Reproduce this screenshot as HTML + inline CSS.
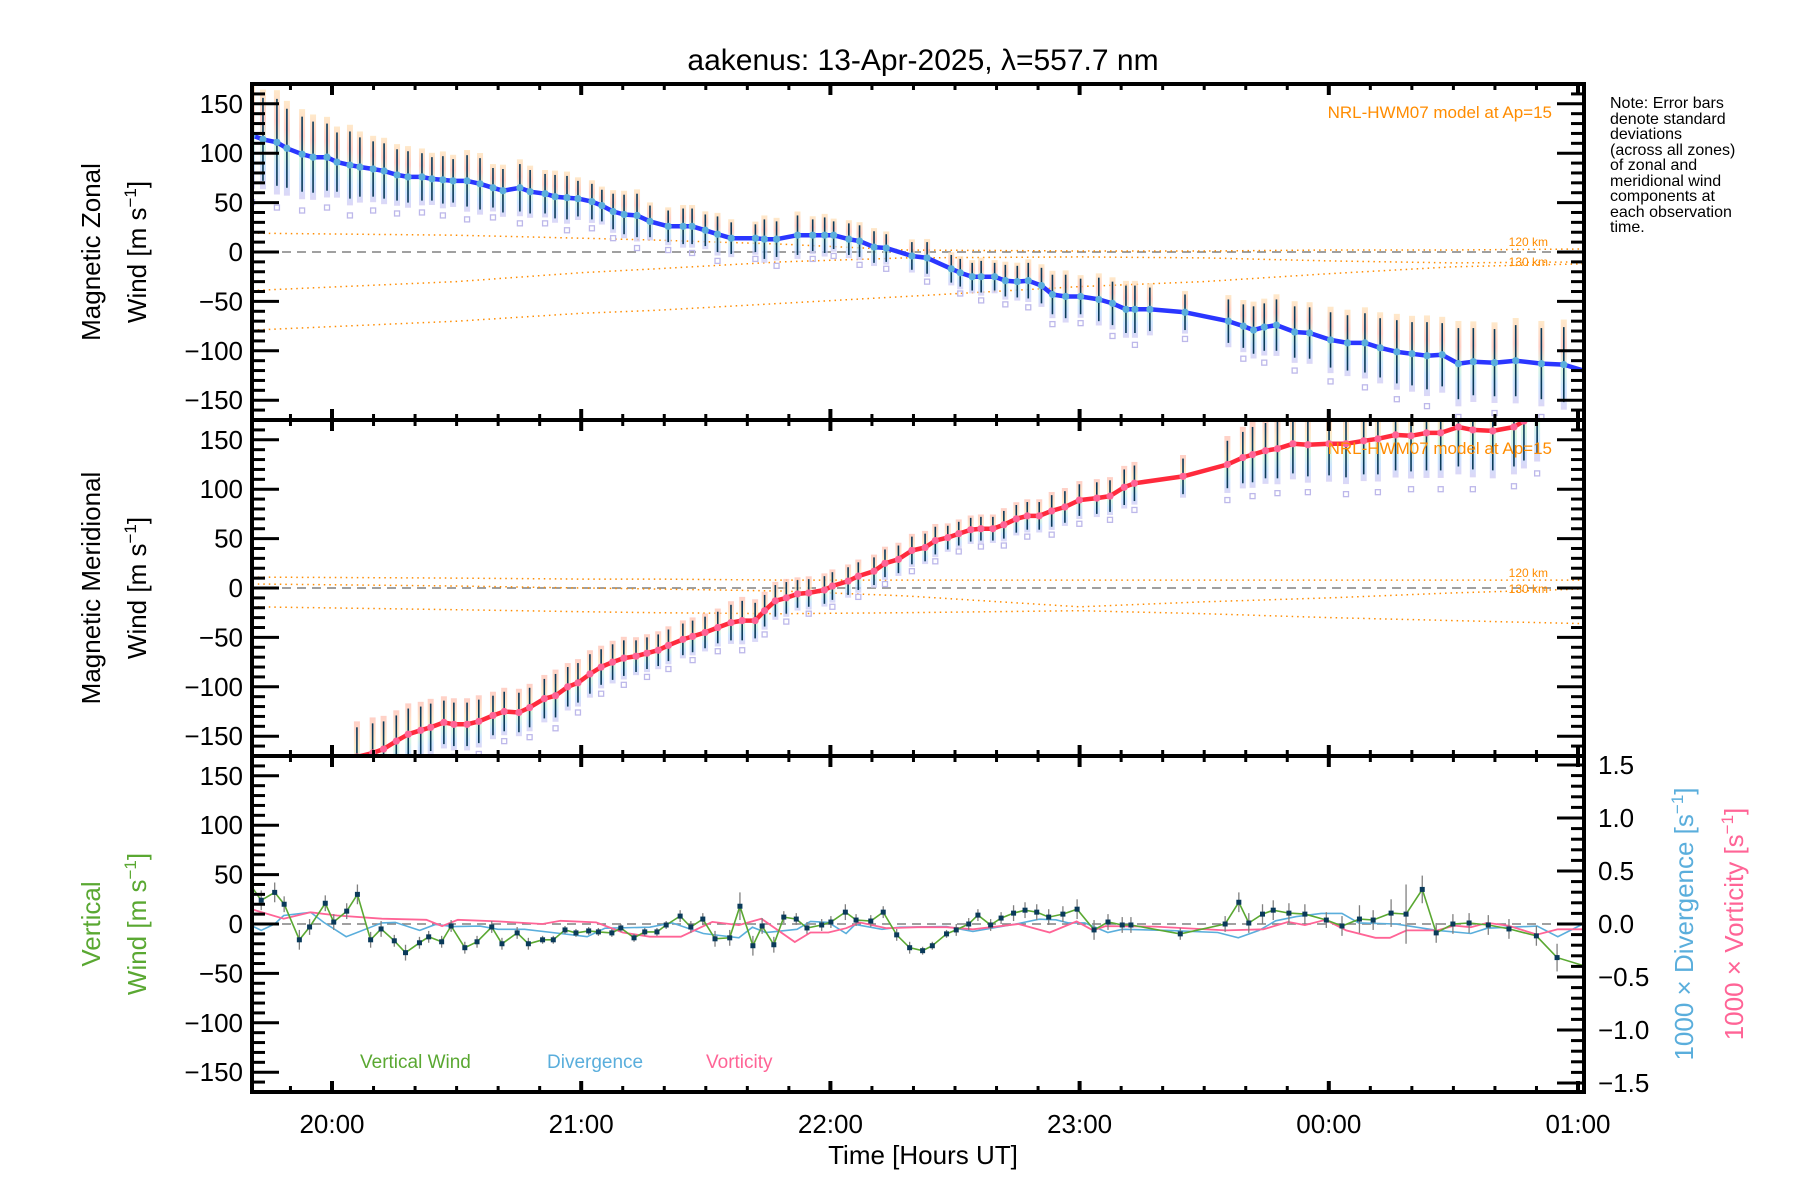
<!DOCTYPE html>
<html><head><meta charset="utf-8"><style>
html,body{margin:0;padding:0;background:#fff;}
svg{display:block;font-family:"Liberation Sans",sans-serif;}
</style></head><body>
<svg id="chart" width="1800" height="1200" viewBox="0 0 1800 1200" xmlns="http://www.w3.org/2000/svg">
<defs>
<linearGradient id="gz" x1="0" y1="0" x2="0" y2="1">
<stop offset="0" stop-color="#ffe2b8"/><stop offset="0.3" stop-color="#ffc0b4"/><stop offset="0.55" stop-color="#ccf4d8"/><stop offset="0.75" stop-color="#bcdcff"/><stop offset="1" stop-color="#d0caf4"/></linearGradient>
<linearGradient id="gm" x1="0" y1="0" x2="0" y2="1">
<stop offset="0" stop-color="#ffc0b4"/><stop offset="0.35" stop-color="#ffe2b8"/><stop offset="0.6" stop-color="#ccf4d8"/><stop offset="0.8" stop-color="#bcdcff"/><stop offset="1" stop-color="#d0caf4"/></linearGradient>
<clipPath id="c1"><rect x="252" y="84" width="1332" height="336"/></clipPath>
<clipPath id="c2"><rect x="252" y="420" width="1332" height="336"/></clipPath>
<clipPath id="c3"><rect x="252" y="756" width="1332" height="336"/></clipPath>
</defs>
<text x="923" y="70" font-size="30" text-anchor="middle">aakenus: 13-Apr-2025, λ=557.7 nm</text>
<g font-size="16" fill="#000">
<text x="1610" y="108">Note: Error bars</text>
<text x="1610" y="124">denote standard</text>
<text x="1610" y="139">deviations</text>
<text x="1610" y="155">(across all zones)</text>
<text x="1610" y="170">of zonal and</text>
<text x="1610" y="186">meridional wind</text>
<text x="1610" y="201">components at</text>
<text x="1610" y="217">each observation</text>
<text x="1610" y="232">time.</text>
</g>
<g id="plots"></g>
<g font-size="26">
<text transform="translate(100,252) rotate(-90)" text-anchor="middle">Magnetic Zonal</text>
<text transform="translate(146,252) rotate(-90)" text-anchor="middle">Wind [m s<tspan font-size="17" dy="-10">−1</tspan><tspan dy="10">]</tspan></text>
</g>
<g font-size="26">
<text transform="translate(100,588) rotate(-90)" text-anchor="middle">Magnetic Meridional</text>
<text transform="translate(146,588) rotate(-90)" text-anchor="middle">Wind [m s<tspan font-size="17" dy="-10">−1</tspan><tspan dy="10">]</tspan></text>
</g>
<g font-size="26" fill="#5aa832">
<text transform="translate(100,924) rotate(-90)" text-anchor="middle">Vertical</text>
<text transform="translate(146,924) rotate(-90)" text-anchor="middle">Wind [m s<tspan font-size="17" dy="-10">−1</tspan><tspan dy="10">]</tspan></text>
</g>
<text transform="translate(1693,924) rotate(-90)" text-anchor="middle" font-size="26" fill="#5aaedc">1000 × Divergence [s<tspan font-size="17" dy="-10">−1</tspan><tspan dy="10">]</tspan></text>
<text transform="translate(1743,924) rotate(-90)" text-anchor="middle" font-size="26" fill="#ff6496">1000 × Vorticity [s<tspan font-size="17" dy="-10">−1</tspan><tspan dy="10">]</tspan></text>
<text x="923" y="1164" font-size="26" text-anchor="middle">Time [Hours UT]</text>
<text x="360" y="1068" font-size="19" fill="#5aa832">Vertical Wind</text>
<text x="547" y="1068" font-size="19" fill="#5aaedc">Divergence</text>
<text x="706" y="1068" font-size="19" fill="#ff6496">Vorticity</text>
</svg>
<script>
// ---- data ----
const zTimes=[19.679,19.723,19.779,19.819,19.880,19.924,19.980,20.020,20.072,20.112,20.165,20.209,20.261,20.305,20.361,20.401,20.445,20.486,20.542,20.594,20.646,20.686,20.754,20.795,20.855,20.895,20.943,20.987,21.043,21.083,21.128,21.172,21.224,21.276,21.349,21.409,21.445,21.498,21.547,21.602,21.699,21.735,21.784,21.868,21.929,21.977,22.013,22.074,22.117,22.175,22.224,22.327,22.388,22.485,22.521,22.569,22.605,22.659,22.702,22.750,22.794,22.847,22.891,22.944,23.004,23.077,23.132,23.186,23.222,23.282,23.423,23.597,23.657,23.698,23.741,23.790,23.863,23.923,24.007,24.075,24.145,24.206,24.273,24.334,24.394,24.455,24.520,24.580,24.665,24.750,24.853,24.943,25.035];
const zValues=[118,114,111,105,99,96,96,91,88,86,84,82,78,76,76,74,73,72,72,69,65,62,65,61,59,56,55,54,51,47,41,38,37,31,26,26,26,22,18,14,14,13,13,17,17,17,17,13,11,5,4,-4,-6,-17,-21,-25,-25,-25,-29,-30,-29,-34,-43,-45,-45,-48,-52,-58,-58,-58,-61,-70,-75,-79,-76,-74,-81,-82,-89,-92,-92,-97,-101,-103,-105,-104,-113,-111,-112,-110,-113,-114,-121];
const zSd=[45,42,44,40,38,36,34,30,34,30,28,28,26,26,24,22,24,22,26,26,20,22,24,22,20,22,22,18,18,16,18,20,22,16,16,18,18,16,18,16,14,20,18,20,16,18,14,16,16,16,14,14,16,14,14,14,16,14,16,16,18,18,20,22,18,22,22,24,24,22,18,22,22,24,24,26,26,26,28,28,30,30,32,32,34,32,36,34,34,36,36,38,40];
const mTimes=[20.100,20.163,20.207,20.258,20.306,20.356,20.396,20.449,20.489,20.542,20.589,20.646,20.691,20.750,20.793,20.852,20.897,20.946,20.987,21.035,21.080,21.126,21.171,21.220,21.264,21.309,21.350,21.408,21.447,21.497,21.548,21.601,21.646,21.698,21.736,21.779,21.823,21.868,21.913,21.976,22.008,22.071,22.112,22.175,22.219,22.273,22.327,22.380,22.421,22.471,22.515,22.563,22.604,22.652,22.696,22.746,22.790,22.838,22.888,22.941,22.999,23.069,23.122,23.179,23.220,23.415,23.593,23.655,23.694,23.746,23.794,23.856,23.916,24.001,24.069,24.140,24.197,24.268,24.330,24.392,24.449,24.520,24.578,24.658,24.743,24.783,24.836];
const mValues=[-171,-167,-163,-155,-148,-144,-141,-136,-138,-138,-135,-129,-125,-126,-121,-112,-109,-100,-96,-87,-80,-75,-71,-69,-66,-63,-58,-52,-49,-45,-40,-35,-33,-33,-23,-13,-10,-6,-5,-2,2,7,12,17,25,29,38,41,48,51,55,59,60,60,64,70,73,73,78,82,89,91,93,102,106,113,125,132,135,139,141,146,145,146,146,149,151,155,154,157,157,163,160,159,163,169,176];
const mSd=[30,30,28,26,26,24,24,22,22,22,22,20,20,20,20,20,22,20,20,20,18,18,18,16,16,16,16,16,16,16,16,18,20,18,16,16,16,14,14,14,14,14,14,14,14,14,14,14,14,12,12,12,12,12,14,14,14,14,16,16,16,16,16,18,18,18,24,26,28,28,30,30,32,32,34,34,36,36,36,38,38,40,40,40,40,40,40];
const vTimes=[19.677,19.716,19.770,19.808,19.869,19.910,19.973,20.007,20.059,20.102,20.155,20.197,20.250,20.295,20.351,20.388,20.440,20.478,20.533,20.582,20.641,20.682,20.743,20.788,20.845,20.888,20.935,20.979,21.030,21.069,21.123,21.159,21.212,21.255,21.304,21.341,21.397,21.440,21.488,21.537,21.596,21.637,21.689,21.726,21.773,21.813,21.863,21.906,21.965,22.002,22.060,22.103,22.162,22.212,22.266,22.318,22.370,22.409,22.466,22.505,22.555,22.592,22.643,22.685,22.735,22.781,22.828,22.876,22.933,22.990,23.058,23.114,23.171,23.206,23.404,23.584,23.639,23.679,23.734,23.777,23.840,23.904,23.990,24.053,24.123,24.178,24.250,24.310,24.375,24.431,24.498,24.563,24.640,24.723,24.833,24.916,25.020];
const vValues=[38,24,32,20,-16,-3,21,2,13,30,-16,-5,-17,-29,-19,-13,-18,-2,-24,-18,-3,-20,-9,-20,-16,-16,-6,-9,-7,-8,-9,-4,-14,-8,-8,-1,8,-3,5,-15,-14,18,-22,-2,-21,7,5,-4,-1,2,12,4,3,12,-11,-24,-27,-22,-10,-6,0,9,-1,6,11,14,12,7,10,15,-6,2,-1,-1,-10,0,22,1,10,14,11,10,4,-2,5,4,11,10,35,-9,0,1,-1,-5,-12,-34,-42];
const vErr=[10,10,10,8,10,8,8,8,8,10,8,8,6,8,6,6,6,6,6,6,6,6,6,6,4,4,4,4,4,4,4,4,4,4,4,4,6,6,6,8,8,14,10,8,8,6,6,6,6,6,8,6,6,6,6,6,4,4,4,6,6,6,6,6,8,8,8,8,8,10,10,8,8,8,6,8,10,10,10,10,10,10,8,10,14,10,14,30,14,10,10,10,10,10,10,14,6];
const divTimes=[19.663,19.716,19.770,19.806,19.914,19.967,20.057,20.200,20.254,20.352,20.415,20.487,20.594,20.666,20.773,20.917,21.024,21.096,21.275,21.365,21.490,21.633,21.687,21.741,21.866,21.920,21.992,22.063,22.099,22.207,22.278,22.466,22.572,22.755,22.838,22.905,22.955,23.021,23.113,23.171,23.354,23.554,23.637,23.720,23.787,23.870,23.970,24.053,24.120,24.270,24.436,24.570,24.636,24.836,24.919,25.020];
const divValues=[0,-0.06,0,0.08,0.11,0.015,-0.12,0.01,0.015,-0.06,-0.005,-0.025,-0.02,-0.05,-0.05,-0.09,-0.12,-0.04,-0.03,0.01,-0.09,-0.13,-0.03,-0.08,-0.05,0.025,0.015,-0.09,-0.005,-0.05,-0.03,-0.025,-0.07,0.005,0.045,0.04,0.01,0.01,-0.08,-0.05,-0.06,-0.08,-0.13,-0.06,0.03,0.07,0.1,0.1,0.01,0,-0.06,-0.09,-0.04,-0.02,-0.12,0];
const vortTimes=[19.663,19.806,19.914,20.021,20.200,20.379,20.442,20.505,20.666,20.845,20.917,21.060,21.167,21.275,21.400,21.526,21.633,21.723,21.857,21.920,21.992,22.063,22.117,22.225,22.350,22.466,22.572,22.755,22.880,22.988,23.054,23.104,23.304,23.587,23.737,23.837,23.904,23.987,24.070,24.187,24.245,24.312,24.436,24.503,24.570,24.636,24.719,24.836,24.919,25.020];
const vortValues=[0.15,0.05,0.11,0.08,0.05,0.04,-0.02,0.04,0.025,0,0.03,0.015,-0.08,-0.12,-0.12,0.02,-0.01,0.05,-0.17,-0.08,-0.08,-0.04,0.015,-0.04,-0.03,-0.03,-0.05,0,-0.08,0.025,-0.06,-0.02,-0.025,-0.06,-0.05,0.02,-0.01,0.04,-0.06,-0.13,-0.13,-0.06,-0.06,-0.015,-0.03,0.01,-0.015,-0.1,-0.05,-0.05];
const modelTimes=[19.68,20.5,21.0,21.3,21.8,22.3,23.0,23.5,24.0,24.5,25.02];
const zonalModelA=[19,17,14,12,8,2,1,1,2,2,3];
const zonalModelB=[-39,-30,-21,-17,-10,-6,-5,-6,-9,-11,-10];
const zonalModelC=[-79,-70,-62,-59,-52,-45,-35,-30,-22,-15,-12];
const merModelA=[11,10,9,9,8,8,8,8,8,8,8];
const merModelB=[4,2,0,-1,-3,-8,-19,-14,-10,-5,-1];
const merModelC=[-19,-22,-24,-25,-26,-25,-23,-26,-30,-33,-36];
const hourLabels=["20:00","21:00","22:00","23:00","00:00","01:00"];
const leftTickLabels=["150","100","50","0","−50","−100","−150"];
const rightTickLabels=["1.5","1.0","0.5","0.0","−0.5","−1.0","−1.5"];

// ---- scales ----
const NS="http://www.w3.org/2000/svg";
const L=252,R=1584,PH=336,tops=[84,420,756];
const X=h=>332+(h-20)*249.2;
const Y=(p,v)=>tops[p]+168-v*0.988;
const YR=r=>tops[2]+168-r*106;
const root=document.getElementById('plots');
function mk(tag,attrs,parent){const e=document.createElementNS(NS,tag);for(const k in attrs)e.setAttribute(k,attrs[k]);(parent||root).appendChild(e);return e;}
function grp(name,clip){const g=mk('g',clip?{'clip-path':'url(#'+clip+')'}:{});


return g;}
function pathFrom(ts,vs,fy){return ts.map((t,i)=>(i?'L':'M')+X(t).toFixed(1)+','+fy(vs[i]).toFixed(1)).join(' ');}

// zero lines
[0,1,2].forEach(p=>{const l=mk('line',{x1:L,x2:R,y1:Y(p,0),y2:Y(p,0),stroke:'#808080','stroke-width':1.5,'stroke-dasharray':'9,6'});

});

// model lines
function model(p,vals,name,clip){const g=grp(name,clip);
mk('path',{d:pathFrom(modelTimes,vals,v=>Y(p,v)),fill:'none',stroke:'#ff8c00','stroke-width':1.5,'stroke-dasharray':'1.5,4'},g);}
model(0,zonalModelA,'zonal-model-120km','c1');model(0,zonalModelB,'zonal-model-130km','c1');model(0,zonalModelC,'zonal-model-low','c1');
model(1,merModelA,'meridional-model-120km','c2');model(1,merModelB,'meridional-model-130km','c2');model(1,merModelC,'meridional-model-low','c2');

// error bar sets
function errSet(p,ts,vs,sds,grad,clip,name,lineColor,markColor){
 const g=grp(name,clip);
 ts.forEach((t,i)=>{const x=X(t),v=vs[i],s=sds[i];
  const r=mk('rect',{x:x-3,y:Y(p,v+s*1.2),width:6,height:(s*2.4)*0.988,fill:'url(#'+grad+')',opacity:0.75},g);
  
  
  if(i%2===0){const q=mk('rect',{x:x-2.5,y:Y(p,v-s*1.5)-2.5,width:5,height:5,fill:'none',stroke:'#bdb8ea','stroke-width':1.3},g);
  
  }
 });
 ts.forEach((t,i)=>{const x=X(t),v=vs[i],s=sds[i];
  const b=mk('line',{x1:x,x2:x,y1:Y(p,v+s),y2:Y(p,v-s),stroke:'#0a3a5a','stroke-width':1.6},g);
  
  });
 const ln=mk('path',{d:pathFrom(ts,vs,v=>Y(p,v)),fill:'none',stroke:lineColor,'stroke-width':4.5,'stroke-linejoin':'round'},g);
 
 
 ts.forEach((t,i)=>{const c=mk('circle',{cx:X(t),cy:Y(p,vs[i]),r:3.6,fill:markColor},g);
  
  });
}
errSet(0,zTimes,zValues,zSd,'gz','c1','zonal-series','#2a36ff','#5aaedc');
errSet(1,mTimes,mValues,mSd,'gm','c2','meridional-series','#ff2a3c','#ff6496');

// panel 3
const g3=grp('vertical-panel-series','c3');
const dv=mk('path',{d:pathFrom(divTimes,divValues,YR),fill:'none',stroke:'#5aaedc','stroke-width':1.6},g3);


const vo=mk('path',{d:pathFrom(vortTimes,vortValues,YR),fill:'none',stroke:'#ff6496','stroke-width':1.8},g3);


vTimes.forEach((t,i)=>{const b=mk('line',{x1:X(t),x2:X(t),y1:Y(2,vValues[i]+vErr[i]),y2:Y(2,vValues[i]-vErr[i]),stroke:'#808080','stroke-width':1.3},g3);

});
const vw=mk('path',{d:pathFrom(vTimes,vValues,v=>Y(2,v)),fill:'none',stroke:'#5aa832','stroke-width':1.6},g3);


vTimes.slice(0,-1).forEach((t,i)=>{const m=mk('rect',{x:X(t)-2.5,y:Y(2,vValues[i])-2.5,width:5,height:5,fill:'#0a3a5a'},g3);

});

// NRL labels
[0,1].forEach(p=>{const t=mk('text',{x:1552,y:tops[p]+34,'font-size':17,fill:'#ff8c00','text-anchor':'end'});t.textContent='NRL-HWM07 model at Ap=15';


[['120 km',Y(p,p?8:3)-3],['130 km',Y(p,p?-1:-10)+4]].forEach(a=>{const k=mk('text',{x:1548,y:a[1],'font-size':12,fill:'#ff8c00','text-anchor':'end'});k.textContent=a[0];

});});

// axes
const ax=grp('axes',null);
[0,1,2].forEach(p=>{const T=tops[p],B=T+PH;
 const fr=mk('rect',{x:L,y:T,width:R-L,height:PH,fill:'none',stroke:'#000','stroke-width':4},ax);
 
 
 for(let m=-2;m<=30;m++){const h=20+m/6,x=X(h);if(x<L+2||x>R-2)continue;const maj=m%6===0;const len=maj?11:6;
  mk('line',{x1:x,x2:x,y1:T,y2:T+len,stroke:'#000','stroke-width':maj?4:3},ax);
  mk('line',{x1:x,x2:x,y1:B,y2:B-len,stroke:'#000','stroke-width':maj?4:3},ax);}
 for(let v=-170;v<=170;v+=10){const y=Y(p,v);const maj=v%50===0;const len=maj?27:13;
  mk('line',{x1:L,x2:L+len,y1:y,y2:y,stroke:'#000','stroke-width':3},ax);
  if(p<2)mk('line',{x1:R,x2:R-len,y1:y,y2:y,stroke:'#000','stroke-width':3},ax);}
 leftTickLabels.forEach((s,i)=>{const v=150-50*i;const t=mk('text',{x:243,y:Y(p,v)+9,'font-size':26,'text-anchor':'end'},ax);t.textContent=s;
 
 });
});
for(let k=-15;k<=15;k++){const r=k/10,y=YR(r);const maj=k%5===0;const len=maj?27:13;
 mk('line',{x1:R,x2:R-len,y1:y,y2:y,stroke:'#000','stroke-width':3},ax);}
rightTickLabels.forEach((s,i)=>{const r=1.5-0.5*i;const t=mk('text',{x:1598,y:YR(r)+9,'font-size':26},ax);t.textContent=s;

});
hourLabels.forEach((s,i)=>{const t=mk('text',{x:X(20+i),y:1133,'font-size':26,'text-anchor':'middle'},ax);t.textContent=s;

});
</script>
</body></html>
